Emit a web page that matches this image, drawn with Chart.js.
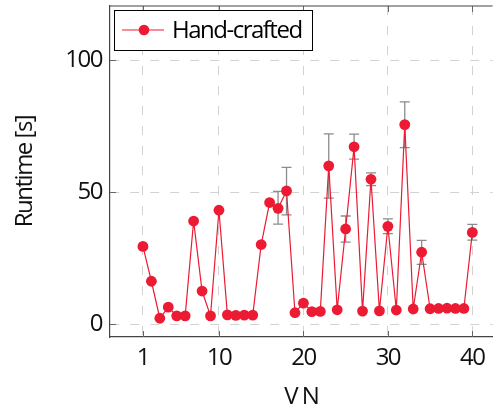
<!DOCTYPE html>
<html lang="en">
<head>
<meta charset="UTF-8" />
<title>Runtime per VN</title>
<script src="https://cdn.jsdelivr.net/npm/chart.js"></script>
<style>
  body { margin: 0; background: #fff; }
  #wrap { position: relative; width: 498px; height: 404px; }
</style>
</head>
<body>
<div id="wrap"><canvas id="runtimeChart"></canvas></div>
<script>
  // values
  const vn = [1, 2, 3, 4, 5, 6, 7, 8, 9, 10, 11, 12, 13, 14, 15, 16, 17, 18, 19, 20,
              21, 22, 23, 24, 25, 26, 27, 28, 29, 30, 31, 32, 33, 34, 35, 36, 37, 38, 39, 40];
  const runtime = [29.5, 16.3, 2.3, 6.5, 3.2, 3.2, 39.1, 12.6, 3.2, 43.2,
                   3.6, 3.4, 3.5, 3.5, 30.2, 46.1, 43.9, 50.5, 4.4, 8.0,
                   4.8, 4.9, 60.0, 5.5, 36.1, 67.2, 5.0, 54.9, 5.1, 37.1,
                   5.4, 75.6, 5.8, 27.3, 5.9, 6.0, 6.1, 6.0, 6.0, 34.8];
  const errLow  = [null, null, null, null, null, null, null, null, null, null,
                   null, null, null, null, null, null, 37.9, 41.4, null, null,
                   null, null, 47.8, null, 31.1, 62.5, null, 52.5, null, 34.3,
                   null, 66.9, null, 22.7, null, null, null, null, null, 31.9];
  const errHigh = [null, null, null, null, null, null, null, null, null, null,
                   null, null, null, null, null, null, 50.3, 59.4, null, null,
                   null, null, 72.1, null, 41.0, 72.0, null, 57.3, null, 39.9,
                   null, 84.2, null, 31.8, null, null, null, null, null, 37.8];
  const xTicks = [1, 10, 20, 30, 40];
  const yTicks = [0, 50, 100];

  const red = '#ec1a32';
  const fontFamily = "'Open Sans', sans-serif";
  const textFont = { family: fontFamily, size: 24 };

  // the original figure uses tight tracking
  const tracking = {
    id: 'tracking',
    beforeDraw(chart) { chart.ctx.letterSpacing = '-1.5px'; }
  };

  const errorBars = {
    id: 'errorBars',
    beforeDatasetsDraw(chart) {
      const { ctx, scales: { x, y } } = chart;
      ctx.save();
      ctx.strokeStyle = '#8c8c8c';
      ctx.lineWidth = 1.3;
      for (let i = 0; i < vn.length; i++) {
        if (errLow[i] == null) continue;
        const px = x.getPixelForValue(vn[i]);
        const y1 = y.getPixelForValue(errLow[i]);
        const y2 = y.getPixelForValue(errHigh[i]);
        ctx.beginPath();
        ctx.moveTo(px, y1); ctx.lineTo(px, y2);
        ctx.moveTo(px - 5, y1); ctx.lineTo(px + 5, y1);
        ctx.moveTo(px - 5, y2); ctx.lineTo(px + 5, y2);
        ctx.stroke();
      }
      ctx.restore();
    }
  };

  // inward tick marks, top frame line and the boxed legend
  const frame = {
    id: 'frame',
    beforeDatasetsDraw(chart) {
      const { ctx, chartArea: a, scales: { x, y } } = chart;
      ctx.save();
      ctx.strokeStyle = '#666';
      ctx.lineWidth = 1;
      ctx.beginPath();
      xTicks.forEach(v => {
        const px = Math.round(x.getPixelForValue(v)) + 0.5;
        ctx.moveTo(px, a.bottom); ctx.lineTo(px, a.bottom - 6);
        ctx.moveTo(px, a.top); ctx.lineTo(px, a.top + 6);
      });
      yTicks.forEach(v => {
        const py = Math.round(y.getPixelForValue(v)) + 0.5;
        ctx.moveTo(a.left, py); ctx.lineTo(a.left + 6, py);
      });
      ctx.stroke();
      ctx.strokeStyle = '#444';
      ctx.lineWidth = 1.2;
      ctx.beginPath();
      ctx.moveTo(a.left, a.top); ctx.lineTo(a.right, a.top);
      ctx.stroke();
      ctx.restore();
    },
    afterDraw(chart) {
      const { ctx, chartArea: a } = chart;
      const ds = chart.data.datasets[0];
      const lx = a.left + 4, ly = a.top + 4, lw = 198, lh = 40;
      const cy = ly + lh / 2;
      ctx.save();
      ctx.fillStyle = '#fff';
      ctx.fillRect(lx, ly, lw, lh);
      ctx.strokeStyle = '#000';
      ctx.lineWidth = 1;
      ctx.strokeRect(lx + 0.5, ly + 0.5, lw, lh);
      ctx.strokeStyle = ds.borderColor;
      ctx.lineWidth = 1.2;
      ctx.beginPath();
      ctx.moveTo(lx + 8, cy); ctx.lineTo(lx + 50, cy);
      ctx.stroke();
      ctx.fillStyle = ds.backgroundColor;
      ctx.beginPath();
      ctx.arc(lx + 30, cy, 5.3, 0, Math.PI * 2);
      ctx.fill();
      ctx.fillStyle = '#000';
      ctx.font = '24px ' + fontFamily;
      ctx.textBaseline = 'middle';
      ctx.fillText(ds.label, lx + 58, cy + 1);
      ctx.restore();
    }
  };

  const ctx = document.getElementById('runtimeChart').getContext('2d');
  new Chart(ctx, {
    type: 'line',
    data: {
      datasets: [{
        label: 'Hand-crafted',
        data: vn.map((v, i) => ({ x: v, y: runtime[i] })),
        borderColor: red,
        backgroundColor: red,
        borderWidth: 1.2,
        pointRadius: 5.4,
        pointBorderWidth: 0,
        pointHoverRadius: 5.4,
        tension: 0
      }]
    },
    options: {
      responsive: true,
      maintainAspectRatio: false,
      animation: false,
      layout: { padding: { top: 6, left: 0, right: 0, bottom: 0 } },
      plugins: {
        legend: { display: false },
        tooltip: { enabled: false }
      },
      scales: {
        x: {
          type: 'linear',
          min: -2.9,
          max: 42.4,
          afterBuildTicks: s => { s.ticks = xTicks.map(v => ({ value: v })); },
          afterFit: s => { s.height = 67; s.paddingLeft = 0; s.paddingRight = 0; },
          grid: { color: '#d2d2d2', lineWidth: 1, drawTicks: false },
          border: { display: true, color: '#444', width: 1.2, dash: [9, 11] },
          ticks: { color: '#111', padding: 7, maxRotation: 0, font: textFont },
          title: {
            display: true,
            text: 'V N',
            color: '#111',
            padding: { top: 0, bottom: -8 },
            font: textFont
          }
        },
        y: {
          min: -4.8,
          max: 120.5,
          afterBuildTicks: s => { s.ticks = yTicks.map(v => ({ value: v })); },
          afterFit: s => { s.width = 110; s.paddingTop = 0; s.paddingBottom = 0; },
          grid: { color: '#d2d2d2', lineWidth: 1, drawTicks: false },
          border: { display: true, color: '#444', width: 1.2, dash: [9, 11] },
          ticks: { color: '#111', padding: 8, font: textFont },
          title: {
            display: true,
            text: 'Runtime [s]',
            color: '#111',
            padding: { top: 11, bottom: 0 },
            font: textFont
          }
        }
      }
    },
    plugins: [tracking, errorBars, frame]
  });
</script>
</body>
</html>
